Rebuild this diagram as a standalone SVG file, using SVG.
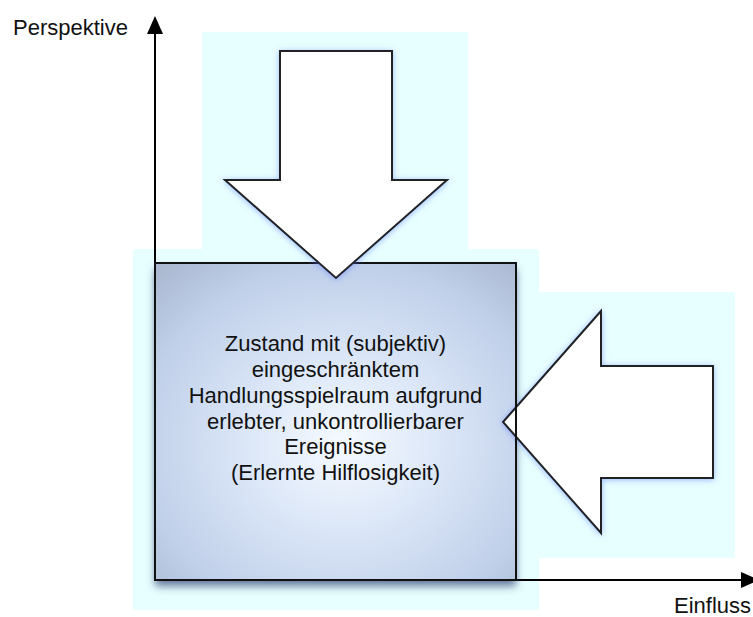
<svg xmlns="http://www.w3.org/2000/svg" width="753" height="617" viewBox="0 0 753 617">
  <style>
    .lbl { font-family: "Liberation Sans", Arial, Helvetica, sans-serif; font-size: 22px; fill: #111; }
    .ctr { text-anchor: middle; }
    .axis { stroke: #000; stroke-width: 2; fill: none; }
    .arrowshape { fill: #fff; stroke: #222; stroke-width: 2; stroke-linejoin: miter; }
    .halo { fill: #e8ffff; }
  </style>
  <defs>
    <radialGradient id="boxFill" cx="52%" cy="57%" r="75%">
      <stop offset="0" stop-color="#f6faff"/>
      <stop offset="0.35" stop-color="#dce7f8"/>
      <stop offset="0.75" stop-color="#c0d0e9"/>
      <stop offset="1" stop-color="#aab8d0"/>
    </radialGradient>
    <filter id="glow" x="-20%" y="-20%" width="140%" height="140%">
      <feGaussianBlur in="SourceAlpha" stdDeviation="3"/>
      <feOffset dx="0" dy="1" result="b"/>
      <feFlood flood-color="#5f80ff" flood-opacity="0.55"/>
      <feComposite in2="b" operator="in"/>
      <feMerge><feMergeNode/><feMergeNode in="SourceGraphic"/></feMerge>
    </filter>
    <filter id="boxShadow" x="-20%" y="-20%" width="140%" height="140%">
      <feGaussianBlur in="SourceAlpha" stdDeviation="4"/>
      <feOffset dx="0" dy="6" result="b"/>
      <feFlood flood-color="#34477a" flood-opacity="0.75"/>
      <feComposite in2="b" operator="in"/>
      <feMerge><feMergeNode/><feMergeNode in="SourceGraphic"/></feMerge>
    </filter>
    <marker id="tip" viewBox="0 0 18 16" refX="1" refY="8" markerWidth="18" markerHeight="16" markerUnits="userSpaceOnUse" orient="auto">
      <path d="M0,0 L18,8 L0,16 Z" fill="#000"/>
    </marker>
  </defs>

  <!-- light backdrop panels behind each shape -->
  <g id="backdrops">
    <rect class="halo" x="202" y="32" width="266" height="217"/>
    <rect class="halo" x="133" y="249" width="406" height="361"/>
    <rect class="halo" x="539" y="292" width="196" height="266"/>
  </g>

  <!-- axes -->
  <g id="connectors">
    <line class="axis" x1="155" y1="263" x2="155" y2="33" marker-end="url(#tip)"/>
    <line class="axis" x1="516" y1="580" x2="742" y2="580" marker-end="url(#tip)"/>
  </g>

  <g id="axis-labels">
    <text class="lbl" x="13" y="35">Perspektive</text>
    <text class="lbl" x="674" y="613">Einfluss</text>
  </g>

  <!-- central state box (fill first, outline after the side arrow) -->
  <g id="state-box">
    <rect x="155" y="263" width="361" height="317" fill="url(#boxFill)" filter="url(#boxShadow)"/>
  </g>

  <g id="arrow-right">
    <path class="arrowshape" filter="url(#glow)" d="M503,422 L601,311 L601,366 L713,366 L713,478 L601,478 L601,533 Z"/>
  </g>

  <g id="state-box-outline">
    <rect x="155" y="263" width="361" height="317" fill="none" stroke="#111" stroke-width="2"/>
    <text class="lbl ctr" x="335.5" y="351">Zustand mit (subjektiv)</text>
    <text class="lbl ctr" x="335.5" y="377">eingeschränktem</text>
    <text class="lbl ctr" x="335.5" y="403">Handlungsspielraum aufgrund</text>
    <text class="lbl ctr" x="335.5" y="429">erlebter, unkontrollierbarer</text>
    <text class="lbl ctr" x="335.5" y="454">Ereignisse</text>
    <text class="lbl ctr" x="335.5" y="480">(Erlernte Hilflosigkeit)</text>
  </g>

  <g id="arrow-top">
    <path class="arrowshape" filter="url(#glow)" d="M280,51 L392,51 L392,180 L447,180 L336,278 L225,180 L280,180 Z"/>
  </g>
</svg>
